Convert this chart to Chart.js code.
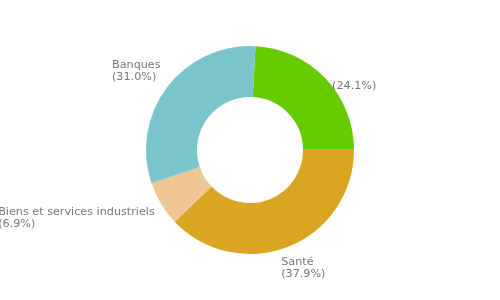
<!DOCTYPE html>
<html>
<head>
<meta charset="utf-8">
<script src="https://cdn.jsdelivr.net/npm/chart.js@4/dist/chart.umd.min.js"></script>
<style>
  html, body { margin: 0; padding: 0; background: #ffffff; }
  #wrap { width: 500px; height: 300px; }
</style>
</head>
<body>
<div id="wrap"><canvas id="c" width="500" height="300"></canvas></div>
<script>
const categories = ['', 'Santé', 'Biens et services industriels', 'Banques'];
const shares = [24.1, 37.9, 6.9, 31.0];
const sliceColors = ['#66cc00', '#daa520', '#eec795', '#7ac4cc'];
// small text nudges (dx, dy) per label, in px
const labelNudges = [[-2, 22], [-12, -1], [4, -4], [3, 4]];

const outsideLabels = {
  id: 'outsideLabels',
  afterDatasetsDraw(chart) {
    const ctx = chart.ctx;
    const meta = chart.getDatasetMeta(0);
    ctx.save();
    ctx.font = '11.2px "DejaVu Sans", sans-serif';
    ctx.fillStyle = '#777777';
    ctx.textBaseline = 'top';
    ctx.textAlign = 'left';
    const lh = 12;
    meta.data.forEach((arc, i) => {
      const p = arc.getProps(['x', 'y', 'startAngle', 'endAngle', 'outerRadius'], true);
      const mid = (p.startAngle + p.endAngle) / 2;
      const r = p.outerRadius + 12;
      const px = p.x + Math.cos(mid) * r;
      const py = p.y + Math.sin(mid) * r;
      const lines = [];
      if (categories[i]) lines.push(categories[i]);
      lines.push('(' + shares[i].toFixed(1) + '%)');
      const w = Math.max(...lines.map(t => ctx.measureText(t).width));
      const h = lines.length * lh;
      let left = Math.cos(mid) >= 0 ? px : px - w;
      let top = Math.sin(mid) < 0 ? py - h : py;
      left += labelNudges[i][0];
      top += labelNudges[i][1];
      lines.forEach((t, k) => ctx.fillText(t, left, top + k * lh));
    });
    ctx.restore();
  }
};

new Chart(document.getElementById('c'), {
  type: 'doughnut',
  data: {
    labels: categories,
    datasets: [{
      data: shares,
      backgroundColor: sliceColors,
      borderWidth: 0,
      hoverOffset: 0
    }]
  },
  options: {
    responsive: false,
    animation: false,
    rotation: 3,
    cutout: '51%',
    layout: { padding: { top: 46, bottom: 46, left: 0, right: 0 } },
    plugins: {
      legend: { display: false },
      tooltip: { enabled: false }
    }
  },
  plugins: [outsideLabels]
});
</script>
</body>
</html>
